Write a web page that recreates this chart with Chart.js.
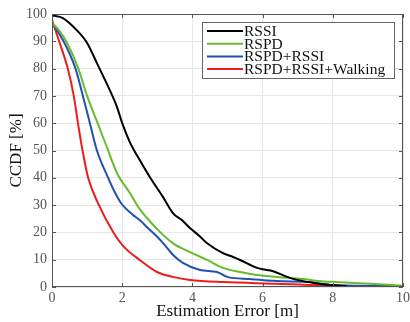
<!DOCTYPE html>
<html>
<head>
<meta charset="utf-8">
<script src="https://cdn.jsdelivr.net/npm/chart.js@4/dist/chart.umd.min.js"></script>
<style>
  html, body { margin: 0; padding: 0; background: #fff; }
  #wrap { width: 410px; height: 322px; }
</style>
</head>
<body>
<div id="wrap"><canvas id="ccdfChart" width="410" height="322"></canvas></div>
<script>
// Series: estimation error [m] vs CCDF [%]
const rssiX = [0, 0.31, 0.71, 1.0, 1.28, 1.65, 1.85, 2.0, 2.22, 2.5, 2.8, 3.16, 3.45, 3.7, 3.93, 4.2, 4.42, 4.87, 5.16, 5.36, 5.84, 6.0, 6.3, 6.7, 6.98, 7.45, 7.8, 8.4];
const rssiY = [99.5, 98.5, 94, 89.4, 82, 72, 66, 60, 53, 46.5, 40, 33, 27, 24.5, 21.6, 18.7, 16, 12.4, 11, 9.9, 7, 6.5, 5.8, 3.7, 2.6, 1.5, 0.9, 0.3];

const rspdX = [0, 0.2, 0.43, 0.75, 1.0, 1.3, 1.6, 1.7, 1.88, 2.22, 2.5, 2.99, 3.45, 3.93, 4.42, 4.87, 5.36, 5.84, 6.41, 7.15, 7.6, 8.1, 9.06, 10];
const rspdY = [96.7, 94, 89.4, 80, 70, 60, 50, 46.5, 41, 34.4, 28.5, 21.3, 16, 12.8, 9.9, 7, 5.5, 4.4, 3.7, 2.9, 2.2, 1.8, 1.2, 0.5];

const rspdRssiX = [0, 0.31, 0.67, 0.88, 1.08, 1.28, 1.6, 1.78, 1.98, 2.31, 2.5, 2.73, 2.99, 3.17, 3.45, 3.73, 4.22, 4.7, 4.99, 5.64, 6.41, 7.35, 8.0, 10];
const rspdRssiY = [96.7, 90.5, 80, 70, 60, 50, 40, 35, 30.5, 26.4, 24.5, 21.6, 18.5, 16, 11.7, 8.8, 6.2, 5.5, 3.7, 2.9, 2.2, 1.8, 0.7, 0.3];

const walkX = [0, 0.23, 0.45, 0.62, 0.74, 0.87, 1.03, 1.3, 1.75, 2.03, 2.5, 2.99, 3.45, 3.93, 4.87, 6.41, 8.0, 10];
const walkY = [97.8, 89, 80, 70, 60, 50, 40, 31, 20, 15, 9.9, 5.5, 3.7, 2.6, 1.8, 1.2, 0.5, 0.2];

const seriesNames = ['RSSI', 'RSPD', 'RSPD+RSSI', 'RSPD+RSSI+Walking'];
const seriesColors = ['#000000', '#66bb2e', '#2250b0', '#ee1c1c'];

const serif = "'Liberation Serif', 'Times New Roman', serif";

function toPoints(xs, ys) {
    return xs.map((x, i) => ({ x: x, y: ys[i] }));
}

// matlab style box with inward ticks
const boxPlugin = {
    id: 'boxPlugin',
    afterDraw(chart) {
        const ctx = chart.ctx;
        const a = chart.chartArea;
        const xs = chart.scales.x, ys = chart.scales.y;
        ctx.save();
        ctx.strokeStyle = '#555';
        ctx.lineWidth = 1;
        ctx.strokeRect(a.left + 0.5, a.top + 0.5, a.right - a.left - 1, a.bottom - a.top - 1);
        ctx.beginPath();
        xs.ticks.forEach(t => {
            const px = Math.round(xs.getPixelForValue(t.value)) + 0.5;
            ctx.moveTo(px, a.bottom); ctx.lineTo(px, a.bottom - 4);
            ctx.moveTo(px, a.top); ctx.lineTo(px, a.top + 4);
        });
        ys.ticks.forEach(t => {
            const py = Math.round(ys.getPixelForValue(t.value)) + 0.5;
            ctx.moveTo(a.left, py); ctx.lineTo(a.left + 4, py);
            ctx.moveTo(a.right, py); ctx.lineTo(a.right - 4, py);
        });
        ctx.stroke();
        ctx.restore();
    }
};

const legendPlugin = {
    id: 'boxLegend',
    afterDatasetsDraw(chart) {
        const ctx = chart.ctx;
        const left = 202, top = 22, w = 192, h = 56;
        ctx.save();
        ctx.fillStyle = '#fff';
        ctx.fillRect(left, top, w, h);
        ctx.strokeStyle = '#666';
        ctx.lineWidth = 1;
        ctx.strokeRect(left + 0.5, top + 0.5, w, h);
        ctx.font = '15.5px ' + serif;
        ctx.textBaseline = 'middle';
        chart.data.datasets.forEach((ds, i) => {
            const y = top + 9 + i * 12.7;
            ctx.strokeStyle = ds.borderColor;
            ctx.lineWidth = 2;
            ctx.beginPath();
            ctx.moveTo(left + 5, y);
            ctx.lineTo(left + 41, y);
            ctx.stroke();
            ctx.fillStyle = '#111';
            ctx.fillText(ds.label, left + 42, y + 1);
        });
        ctx.restore();
    }
};

new Chart(document.getElementById('ccdfChart').getContext('2d'), {
    type: 'line',
    data: {
        datasets: [
            { label: seriesNames[0], data: toPoints(rssiX, rssiY), borderColor: seriesColors[0] },
            { label: seriesNames[1], data: toPoints(rspdX, rspdY), borderColor: seriesColors[1] },
            { label: seriesNames[2], data: toPoints(rspdRssiX, rspdRssiY), borderColor: seriesColors[2] },
            { label: seriesNames[3], data: toPoints(walkX, walkY), borderColor: seriesColors[3] }
        ]
    },
    options: {
        responsive: false,
        animation: false,
        elements: {
            point: { radius: 0 },
            line: { borderWidth: 2, fill: false, cubicInterpolationMode: 'monotone' }
        },
        layout: { padding: { top: 14, right: 0, left: 0, bottom: 0 } },
        plugins: {
            legend: { display: false },
            tooltip: { enabled: false }
        },
        scales: {
            x: {
                type: 'linear',
                min: 0,
                max: 10,
                ticks: { stepSize: 2, color: '#555', font: { family: serif, size: 14 }, padding: 3, maxRotation: 0 },
                grid: { color: '#e6e6e6', drawTicks: false },
                border: { display: false },
                title: { display: true, text: 'Estimation Error [m]', color: '#111', font: { family: serif, size: 17 }, padding: { top: 0, bottom: 0 } },
                afterFit(scale) {
                    scale.height = 35;
                    scale.paddingRight = 7;
                }
            },
            y: {
                min: 0,
                max: 100,
                ticks: { stepSize: 10, color: '#555', font: { family: serif, size: 14 }, padding: 5 },
                grid: { color: '#e6e6e6', drawTicks: false },
                border: { display: false },
                title: { display: true, text: 'CCDF [%]', color: '#111', font: { family: serif, size: 17 }, padding: { top: 6, bottom: 0 } },
                afterFit(scale) { scale.width = 52; }
            }
        }
    },
    plugins: [boxPlugin, legendPlugin]
});
</script>
</body>
</html>
